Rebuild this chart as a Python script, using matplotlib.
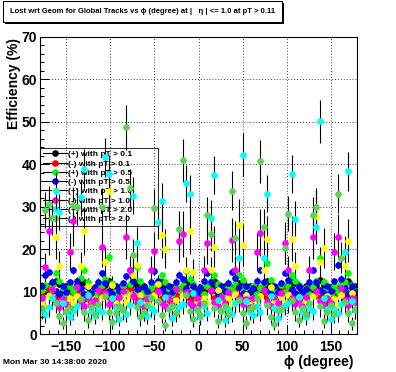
import matplotlib.pyplot as plt
from matplotlib.lines import Line2D
from matplotlib.patches import Rectangle
from matplotlib.ticker import MultipleLocator

plt.rcParams['font.family'] = ['Liberation Sans', 'DejaVu Sans']
plt.rcParams['font.weight'] = 'bold'

# phi bin centres (4 degree bins)
PHI = list(range(-178, 180, 4))

LABELS = ['(+) with pT > 0.1', '(-) with pT > 0.1',
          '(+) with pT > 0.5', '(-) with pT > 0.5',
          '(+) with pT > 1.0', '(-) with pT > 1.0',
          '(+) with pT > 2.0', '(-) with pT > 2.0']
COLORS = ['#000000', '#ff0000', '#00ff00', '#0000ff',
          '#ffff00', '#ff00ff', '#00ffff', '#59d454']

pos_01 = [10.8, 10.1, 11.4, 11.6, 12.4, 11.7, 10.4, 11.2, 9.9, 10.7,
          11.5, 11.8, 12.2, 11.0, 10.2, 11.1, 9.8, 10.9, 11.6, 12.5,
          11.4, 10.3, 11.0, 9.7, 10.8, 11.5, 11.9, 12.1, 10.7, 11.3,
          9.9, 10.9, 10.2, 11.3, 12.3, 11.6, 10.3, 11.1, 9.8, 10.7,
          11.4, 11.9, 12.4, 11.2, 10.1, 11.0, 9.8, 10.9, 11.5, 12.6,
          11.5, 10.4, 11.2, 9.9, 10.8, 11.6, 12.0, 12.3, 10.6, 11.2,
          9.9, 10.8, 10.3, 11.4, 12.5, 11.5, 10.2, 11.0, 9.7, 10.9,
          11.6, 12.2, 12.0, 11.1, 10.0, 11.2, 9.9, 10.8, 11.6, 12.7,
          11.6, 10.2, 11.1, 9.8, 10.7, 11.5, 12.1, 12.4, 10.8, 11.3]
neg_01 = [9.0, 10.6, 11.0, 10.1, 8.6, 9.5, 8.1, 9.2, 9.3, 10.7,
          10.2, 9.0, 8.3, 9.4, 8.0, 9.1, 9.5, 10.9, 10.0, 8.7,
          9.6, 8.1, 9.0, 9.2, 10.6, 10.8, 9.2, 8.4, 9.5, 8.0,
          9.1, 9.4, 10.9, 9.9, 8.5, 9.4, 8.0, 9.1, 9.3, 10.5,
          10.8, 9.1, 8.3, 9.5, 7.9, 9.0, 9.4, 11.0, 10.1, 8.6,
          9.5, 8.1, 9.2, 9.3, 10.7, 10.5, 9.0, 8.3, 9.4, 8.1,
          9.2, 9.5, 10.9, 10.0, 8.5, 9.3, 8.0, 9.2, 9.4, 10.8,
          10.6, 9.0, 8.4, 9.5, 8.0, 9.2, 9.4, 11.1, 10.2, 8.7,
          9.5, 8.2, 9.1, 9.3, 10.9, 10.0, 8.6, 9.4, 8.1, 9.0]
pos_05 = [10.4, 11.6, 9.3, 11.5, 14.4, 12.6, 10.9, 9.5, 11.3, 10.2,
          11.0, 13.1, 15.2, 12.3, 10.0, 9.2, 10.8, 11.6, 12.9, 18.2,
          12.0, 10.6, 9.4, 11.2, 9.9, 11.7, 12.8, 15.8, 12.4, 10.1,
          9.3, 10.9, 11.8, 12.6, 13.9, 12.2, 10.7, 9.4, 11.1, 10.3,
          11.6, 14.8, 13.0, 11.9, 9.7, 10.8, 9.5, 11.4, 12.5, 13.9,
          11.9, 10.2, 9.3, 11.0, 10.4, 11.8, 13.9, 12.7, 10.9, 9.6,
          11.2, 9.5, 10.8, 12.1, 16.8, 12.7, 10.4, 9.3, 11.5, 10.0,
          11.3, 13.9, 12.4, 11.6, 9.6, 10.9, 9.4, 11.0, 12.5, 18.0,
          12.3, 10.5, 9.4, 11.3, 10.1, 11.7, 12.2, 14.4, 11.6, 10.2]
neg_05 = [11.4, 13.9, 14.6, 12.3, 10.1, 9.4, 11.2, 9.8, 12.2, 15.0,
          12.6, 10.8, 9.5, 11.1, 9.6, 10.9, 12.3, 14.3, 12.0, 10.2,
          9.4, 11.3, 10.2, 12.0, 13.6, 15.2, 12.5, 10.6, 9.3, 11.0,
          10.1, 12.2, 14.8, 12.4, 10.5, 9.4, 11.2, 10.0, 12.3, 14.0,
          12.9, 10.9, 9.6, 11.3, 9.7, 10.8, 12.4, 14.4, 12.2, 10.4,
          9.5, 11.4, 10.1, 12.1, 14.7, 13.1, 11.0, 9.6, 11.2, 9.9,
          10.9, 12.6, 15.1, 12.2, 10.4, 9.5, 11.3, 10.0, 12.0, 14.4,
          12.8, 10.7, 9.6, 11.2, 9.8, 10.7, 12.2, 15.1, 12.3, 10.3,
          9.6, 11.3, 10.2, 12.4, 16.3, 13.0, 10.9, 9.5, 11.4, 10.0]
pos_10 = [7.6, 6.4, 8.9, 10.5, 22.9, 16.0, 8.1, 6.8, 8.5, 7.2,
          9.0, 16.0, 24.3, 11.2, 7.1, 8.3, 6.5, 8.7, 17.0, 33.8,
          11.5, 7.4, 6.3, 8.9, 7.6, 9.2, 14.0, 16.3, 9.1, 6.9,
          8.0, 6.6, 9.2, 11.8, 23.4, 20.1, 8.5, 6.9, 8.1, 6.7,
          9.1, 15.0, 24.3, 14.7, 7.7, 6.5, 8.6, 7.3, 15.0, 20.6,
          10.4, 7.4, 6.3, 8.5, 7.2, 9.4, 25.8, 21.0, 9.2, 6.8,
          8.2, 6.6, 8.9, 15.0, 22.5, 11.0, 7.6, 6.4, 8.7, 7.3,
          9.3, 22.5, 16.0, 8.7, 7.0, 8.1, 6.5, 9.0, 27.7, 17.0,
          20.3, 8.9, 6.7, 8.2, 6.9, 9.2, 16.0, 22.0, 9.7, 7.4]
neg_10 = [8.6, 15.8, 24.3, 10.6, 7.5, 6.4, 8.3, 7.0, 19.4, 26.7,
          11.0, 7.8, 6.5, 8.4, 6.9, 8.1, 10.3, 20.6, 9.7, 7.1,
          8.2, 6.4, 8.7, 10.1, 22.9, 15.0, 8.9, 7.2, 7.8, 6.3,
          8.3, 15.0, 19.6, 10.2, 7.3, 6.6, 8.5, 6.9, 10.5, 22.0,
          23.6, 9.9, 7.4, 6.5, 8.6, 7.1, 15.0, 21.5, 10.3, 7.5,
          6.7, 8.8, 7.2, 10.0, 22.2, 15.0, 8.6, 7.0, 8.2, 6.4,
          8.5, 19.4, 23.9, 10.4, 7.6, 6.5, 8.7, 7.2, 9.6, 21.5,
          15.0, 8.5, 7.1, 8.0, 6.6, 8.8, 15.0, 22.9, 10.2, 7.7,
          6.9, 8.6, 7.3, 19.4, 22.9, 10.8, 8.1, 6.8, 8.4, 7.6]
pos_20 = [5.8, 4.6, 6.3, 8.5, 33.8, 28.8, 7.2, 5.1, 3.9, 5.5,
          6.6, 32.2, 39.0, 9.1, 5.4, 4.2, 6.0, 5.2, 41.6, 37.6,
          8.4, 6.1, 3.6, 5.7, 4.8, 6.9, 32.6, 21.5, 7.6, 5.0,
          4.3, 6.2, 5.5, 26.5, 31.4, 8.8, 5.9, 3.8, 5.3, 6.4,
          7.1, 35.5, 33.1, 9.6, 5.6, 4.1, 6.5, 5.0, 27.4, 37.4,
          8.1, 5.7, 3.4, 6.0, 4.7, 7.3, 18.0, 42.3, 7.8, 5.2,
          4.4, 6.6, 5.1, 18.0, 33.1, 9.0, 6.2, 3.7, 5.6, 6.8,
          7.4, 37.8, 27.2, 8.7, 5.3, 4.0, 6.1, 5.4, 25.3, 50.1,
          8.6, 6.0, 3.5, 5.8, 4.9, 7.0, 19.4, 38.3, 7.7, 5.6]
neg_20 = [6.2, 29.3, 30.7, 27.4, 7.4, 4.3, 2.6, 5.5, 6.1, 30.3,
          30.0, 8.2, 5.1, 3.2, 6.4, 4.6, 7.0, 30.0, 8.9, 5.3,
          2.8, 4.9, 6.5, 5.6, 48.7, 34.3, 18.7, 6.3, 3.9, 5.2,
          6.9, 8.4, 29.8, 7.7, 4.5, 2.2, 5.8, 6.6, 5.0, 24.8,
          40.9, 9.1, 5.5, 3.5, 6.0, 4.4, 7.3, 28.1, 23.6, 6.2,
          3.1, 5.4, 6.7, 4.7, 33.8, 22.7, 7.9, 5.0, 2.7, 5.9,
          6.4, 8.6, 40.7, 25.3, 6.8, 4.1, 2.4, 5.7, 6.2, 20.3,
          28.4, 8.0, 5.2, 3.3, 6.1, 4.8, 7.2, 28.1, 30.0, 6.5,
          3.0, 5.1, 6.8, 4.6, 33.1, 18.0, 7.5, 4.9, 2.5, 5.8]

# errors
err_pos_01 = 0.4
err_neg_01 = 0.4
err_pos_05 = 0.8
err_neg_05 = 0.8
err_pos_10 = [1.4, 1.3, 1.5, 1.9, 5.2, 3.5, 1.6, 1.4, 1.3, 1.4,
              1.5, 3.4, 5.6, 2.0, 1.4, 1.3, 1.3, 1.4, 3.6, 7.0,
              2.1, 1.5, 1.3, 1.3, 1.4, 1.6, 2.8, 3.4, 1.9, 1.4,
              1.3, 1.3, 1.4, 2.0, 5.4, 4.6, 1.7, 1.4, 1.3, 1.4,
              1.6, 3.2, 5.5, 3.0, 1.5, 1.3, 1.3, 1.4, 3.2, 4.8,
              2.0, 1.4, 1.3, 1.3, 1.4, 1.7, 6.0, 5.0, 1.8, 1.4,
              1.3, 1.3, 1.5, 3.2, 5.3, 2.1, 1.5, 1.4, 1.3, 1.4,
              1.7, 5.2, 3.4, 1.6, 1.4, 1.3, 1.3, 1.5, 6.2, 3.6,
              4.8, 1.7, 1.4, 1.3, 1.4, 1.6, 3.4, 5.1, 1.9, 1.5]
err_neg_10 = [1.6, 3.4, 5.6, 2.0, 1.5, 1.4, 1.4, 1.4, 4.4, 6.0,
              2.2, 1.5, 1.4, 1.4, 1.4, 1.5, 2.0, 4.8, 2.0, 1.5,
              1.4, 1.3, 1.4, 1.8, 5.3, 3.3, 1.7, 1.5, 1.4, 1.4,
              1.5, 3.3, 4.5, 1.9, 1.5, 1.4, 1.3, 1.4, 2.1, 5.1,
              5.4, 1.8, 1.5, 1.4, 1.3, 1.5, 3.3, 5.0, 2.0, 1.5,
              1.4, 1.4, 1.5, 1.9, 5.2, 3.3, 1.7, 1.5, 1.4, 1.3,
              1.5, 4.4, 5.5, 1.9, 1.5, 1.4, 1.4, 1.4, 1.8, 5.0,
              3.3, 1.7, 1.5, 1.4, 1.3, 1.5, 3.3, 5.3, 2.0, 1.5,
              1.4, 1.4, 1.5, 4.4, 5.3, 2.1, 1.6, 1.5, 1.4, 1.5]
err_pos_20 = [2.2, 1.9, 2.3, 2.6, 4.4, 4.2, 2.4, 2.0, 1.8, 2.1,
              2.3, 4.3, 4.5, 2.7, 2.1, 1.9, 2.2, 2.0, 4.5, 4.5,
              2.6, 2.2, 1.7, 2.1, 2.0, 2.4, 4.3, 3.8, 2.5, 2.0,
              1.9, 2.2, 2.1, 4.1, 4.3, 2.6, 2.2, 1.8, 2.1, 2.3,
              2.4, 4.4, 4.3, 2.7, 2.1, 1.9, 2.3, 2.0, 4.1, 4.5,
              2.5, 2.1, 1.7, 2.2, 1.9, 2.4, 3.5, 5.0, 2.5, 2.0,
              1.9, 2.3, 2.0, 3.5, 4.3, 2.6, 2.2, 1.8, 2.1, 2.4,
              2.4, 4.5, 4.1, 2.6, 2.0, 1.9, 2.2, 2.1, 4.0, 5.0,
              2.6, 2.2, 1.7, 2.1, 2.0, 2.4, 3.6, 4.5, 2.5, 2.1]
err_neg_20 = [2.3, 4.2, 4.3, 4.1, 2.4, 1.9, 1.5, 2.1, 2.3, 4.3,
              4.3, 2.6, 2.1, 1.7, 2.3, 2.0, 2.4, 4.3, 2.7, 2.1,
              1.6, 2.0, 2.3, 2.2, 5.3, 4.6, 3.7, 2.3, 1.9, 2.1,
              2.4, 2.6, 4.3, 2.5, 2.0, 1.4, 2.2, 2.3, 2.1, 4.1,
              5.0, 2.7, 2.2, 1.8, 2.3, 2.0, 2.5, 4.2, 4.0, 2.3,
              1.7, 2.1, 2.4, 2.1, 4.6, 4.0, 2.6, 2.1, 1.6, 2.2,
              2.3, 2.6, 5.0, 4.1, 2.4, 1.9, 1.5, 2.2, 2.3, 3.8,
              4.2, 2.6, 2.1, 1.7, 2.3, 2.1, 2.5, 4.2, 4.3, 2.4,
              1.7, 2.1, 2.4, 2.1, 4.5, 3.6, 2.5, 2.1, 1.6, 2.2]

SERIES = [pos_01, neg_01, pos_05, neg_05, pos_10, neg_10, pos_20, neg_20]
ERRORS = [err_pos_01, err_neg_01, err_pos_05, err_neg_05,
          err_pos_10, err_neg_10, err_pos_20, err_neg_20]

W, H = 396, 372
fig = plt.figure(figsize=(W / 100, H / 100), dpi=100)
ax = fig.add_axes([40 / W, 1 - 334 / H, 317 / W, 297 / H])

for k, (vals, err, c) in enumerate(zip(SERIES, ERRORS, COLORS)):
    ax.errorbar(PHI, vals, yerr=err, fmt='o', ms=4.8, mfc=c, mec=c, mew=0,
                ecolor='black', elinewidth=0.8, capsize=0, zorder=2 + k * 0.01)

ax.set_xlim(-180, 180)
ax.set_ylim(0, 70)
ax.xaxis.set_major_locator(MultipleLocator(50))
ax.xaxis.set_minor_locator(MultipleLocator(10))
ax.yaxis.set_major_locator(MultipleLocator(10))
ax.yaxis.set_minor_locator(MultipleLocator(2))
ax.tick_params(which='both', direction='in', top=False, right=False,
               width=0.75, labelsize=10)
ax.tick_params(which='major', length=6.5)
ax.tick_params(which='minor', length=3.2)
ax.tick_params(axis='x', pad=4)
ax.tick_params(axis='y', pad=2)
ax.grid(True, which='major', color='black', linestyle=(0, (1, 2.5)), linewidth=0.6)
for s in ax.spines.values():
    s.set_linewidth(0.8)

handles = [Line2D([], [], color='black', lw=0.8, marker='o', ms=4.8,
                  mfc=c, mec=c, mew=0) for c in COLORS]
leg = ax.legend(handles, LABELS, loc='upper left',
                bbox_to_anchor=(0, 0, 118 / 317, (334 - 148) / 297),
                mode='expand', borderaxespad=0, fontsize=6, labelspacing=0.17,
                handlelength=2.9, handletextpad=0.2, borderpad=0.3,
                frameon=True, fancybox=False, edgecolor='black', facecolor='none')
leg.get_frame().set_linewidth(0.75)
leg.set_zorder(1.5)

fig.text(14 / W, 1 - 38 / H, 'Efficiency (%)', rotation=90, ha='center', va='top',
         fontsize=10, fontweight='bold')
fig.text(354 / W, 1 - 362 / H, 'ϕ (degree)', ha='right', va='center',
         fontsize=10, fontweight='bold')
fig.text(3 / W, 1 - 362 / H, 'Mon Mar 30 14:38:00 2020', ha='left', va='center',
         fontsize=6, fontweight='bold')

# title box with a thin shadow
fig.add_artist(Rectangle((4.5 / W, 1 - 23.5 / H), 279 / W, 21 / H, transform=fig.transFigure,
                         facecolor='black', edgecolor='none'))
fig.add_artist(Rectangle((3 / W, 1 - 22 / H), 279 / W, 21 / H, transform=fig.transFigure,
                         facecolor='white', edgecolor='black', linewidth=0.75))
fig.text(142.5 / W, 1 - 11.7 / H,
         'Lost wrt Geom for Global Tracks vs ϕ (degree) at |   η | <= 1.0 at pT > 0.11',
         ha='center', va='center', fontsize=5.5, fontweight='bold')

fig.savefig('out.png', dpi=100)
